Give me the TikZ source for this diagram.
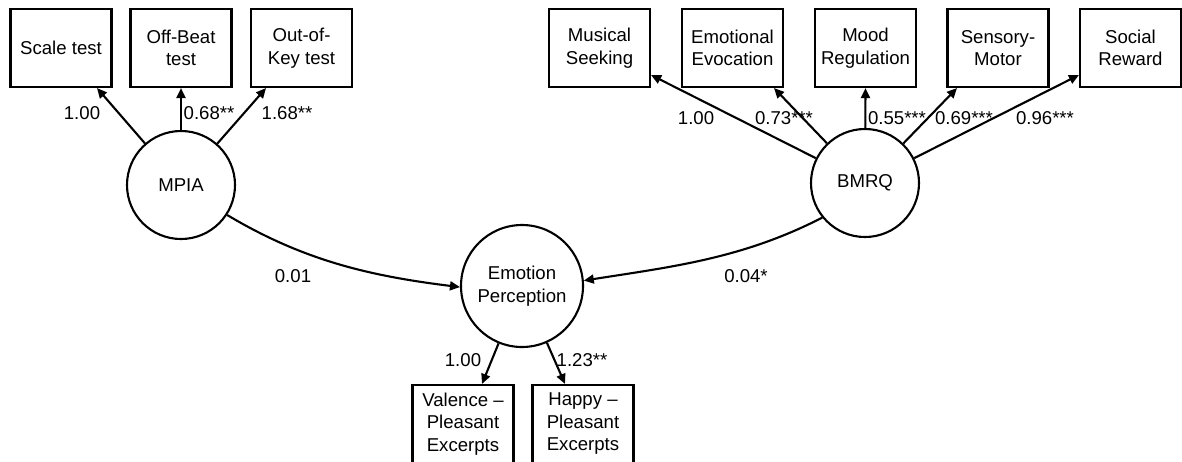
\documentclass[tikz,border=0pt]{standalone}
\usepackage{fontspec}
\setmainfont{Liberation Sans}
\usetikzlibrary{arrows.meta,calc}
\begin{document}
\begin{tikzpicture}[x=1pt,y=-1pt,
  every node/.style={font=\fontsize{18.6}{22.5}\selectfont},
  obs/.style={draw, line width=2.1pt, minimum width=101pt, minimum height=78pt, inner sep=0pt, align=center},
  lat/.style={draw, circle, line width=2.1pt, inner sep=0pt, align=center},
  arr/.style={line width=2.1pt, -{Triangle[length=10pt,width=9pt]}},
  lab/.style={inner sep=0pt}]
\useasboundingbox (0,0) rectangle (1182,461);
% MPIA block
\node[obs] (st) at (61,48) {Scale test};
\node[obs] (ob) at (181,48) {Off-Beat\\test};
\node[obs] (ok) at (301.5,48) {Out-of-\\Key test};
\node[lat, minimum size=108pt] (mpia) at (181,185) {MPIA};
% BMRQ block
\node[obs] (ms) at (599.5,48) {Musical\\Seeking};
\node[obs] (ee) at (732.5,48) {Emotional\\Evocation};
\node[obs] (mr) at (865.5,48) {Mood\\Regulation};
\node[obs] (sm) at (998,48) {Sensory-\\Motor};
\node[obs] (sr) at (1130.5,48) {Social\\Reward};
\node[lat, minimum size=108pt] (bmrq) at (865,183) {BMRQ};
% Emotion perception block
\node[lat, minimum size=122pt] (ep) at (522,286) {Emotion\\Perception};
\node[obs] (vp) at (463,424) {Valence –\\Pleasant\\Excerpts};
\node[obs] (hp) at (583,424) {Happy –\\Pleasant\\Excerpts};
% loadings MPIA
\draw[arr] (mpia) -- ([xshift=36pt]st.south);
\draw[arr] (mpia) -- (ob.south);
\draw[arr] (mpia) -- ([xshift=-35.5pt]ok.south);
\node[lab] (l1) at (82,113) {1.00};
\node[lab] (l2) at (209,113) {0.68**};
\node[lab] (l3) at (287,113) {1.68**};
% loadings BMRQ
\draw[arr] (bmrq) -- ([yshift=-27pt]ms.east);
\draw[arr] (bmrq) -- ([xshift=41.5pt]ee.south);
\draw[arr] (bmrq) -- (mr.south);
\draw[arr] (bmrq) -- ([xshift=-41pt]sm.south);
\draw[arr] (bmrq) -- ([yshift=-27pt]sr.west);
\node[lab] (l4) at (696,118) {1.00};
\node[lab] (l5) at (784,118) {0.73***};
\node[lab] (l6) at (897,118) {0.55***};
\node[lab] (l7) at (964,118) {0.69***};
\node[lab] (l8) at (1045,118) {0.96***};
% structural paths
\draw[arr] (mpia.-33) .. controls +(77,46) and +(-89,-11) .. (ep.181);
\draw[arr] (bmrq.-141) .. controls +(-80,41) and +(89,-14) .. (ep.5);
\node[lab] (l9) at (293,276) {0.01};
\node[lab] (l10) at (746,276) {0.04*};
% loadings EP
\draw[arr] (ep) -- ([xshift=19pt]vp.north);
\draw[arr] (ep) -- ([xshift=-18pt]hp.north);
\node[lab] (l11) at (463,360) {1.00};
\node[lab] (l12) at (582,360) {1.23**};
\end{tikzpicture}
\end{document}
